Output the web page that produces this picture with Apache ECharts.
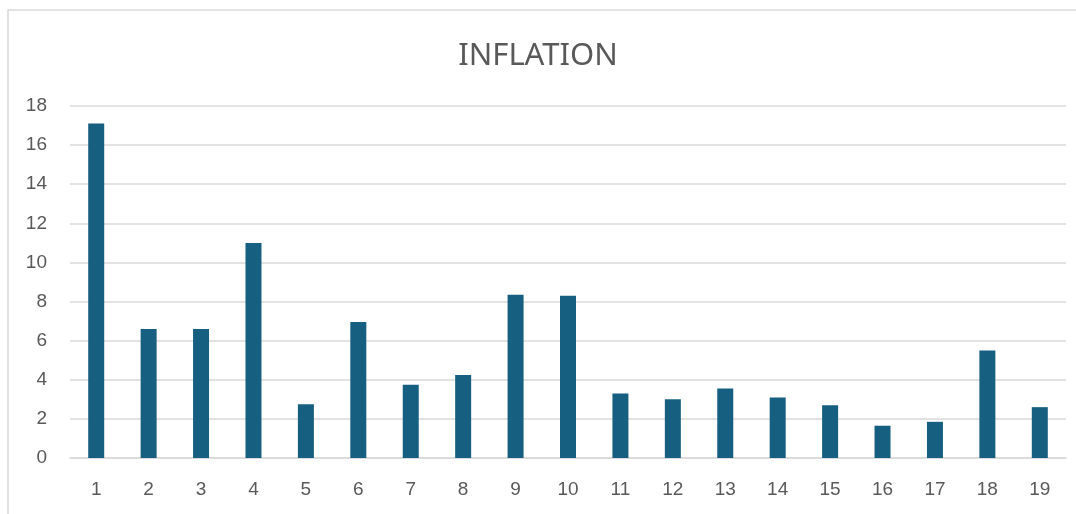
<!DOCTYPE html>
<html>
<head>
<meta charset="utf-8">
<script src="https://cdn.jsdelivr.net/npm/echarts@6/dist/echarts.min.js"></script>
<style>
    html, body { margin: 0; padding: 0; background: #fff; }
    #chart { width: 1076px; height: 514px; }
</style>
</head>
<body>
<div id="chart"></div>
<script>
    // years 1..19 and inflation values
    const categories = ['1', '2', '3', '4', '5', '6', '7', '8', '9', '10',
        '11', '12', '13', '14', '15', '16', '17', '18', '19'];
    const inflation = [17.1, 6.6, 6.6, 11.0, 2.75, 6.95, 3.75, 4.25, 8.35, 8.3,
        3.3, 3.0, 3.55, 3.1, 2.7, 1.65, 1.85, 5.5, 2.6];
    const yTicks = { min: 0, max: 18, step: 2 };

    let myChart = echarts.init(document.getElementById('chart'));
    myChart.setOption({
        animation: false,
        title: {
            text: 'INFLATION',
            left: 'center',
            top: 36,
            textStyle: {
                fontFamily: 'Noto Sans',
                fontWeight: 'normal',
                fontSize: 31,
                color: '#595959'
            }
        },
        graphic: [
            {
                type: 'rect',
                shape: { x: 8, y: 10, width: 1100, height: 600 },
                style: { fill: 'none', stroke: '#d9d9d9', lineWidth: 1.5 },
                silent: true
            }
        ],
        grid: {
            left: 70,
            right: 10,
            top: 106,
            bottom: 56
        },
        xAxis: {
            type: 'category',
            data: categories,
            axisTick: { show: false },
            axisLine: { lineStyle: { color: '#d9d9d9', width: 1.5 } },
            axisLabel: {
                margin: 22,
                fontFamily: 'Liberation Sans',
                fontSize: 19,
                color: '#595959'
            }
        },
        yAxis: {
            type: 'value',
            min: yTicks.min,
            max: yTicks.max,
            interval: yTicks.step,
            axisLine: { show: false },
            axisTick: { show: false },
            splitLine: { lineStyle: { color: '#d9d9d9', width: 1.5 } },
            axisLabel: {
                margin: 23,
                fontFamily: 'Liberation Sans',
                fontSize: 19,
                color: '#595959'
            }
        },
        series: [
            {
                name: 'Inflation',
                type: 'bar',
                barWidth: 16,
                data: inflation,
                itemStyle: { color: '#175f80' }
            }
        ]
    });
</script>
</body>
</html>
